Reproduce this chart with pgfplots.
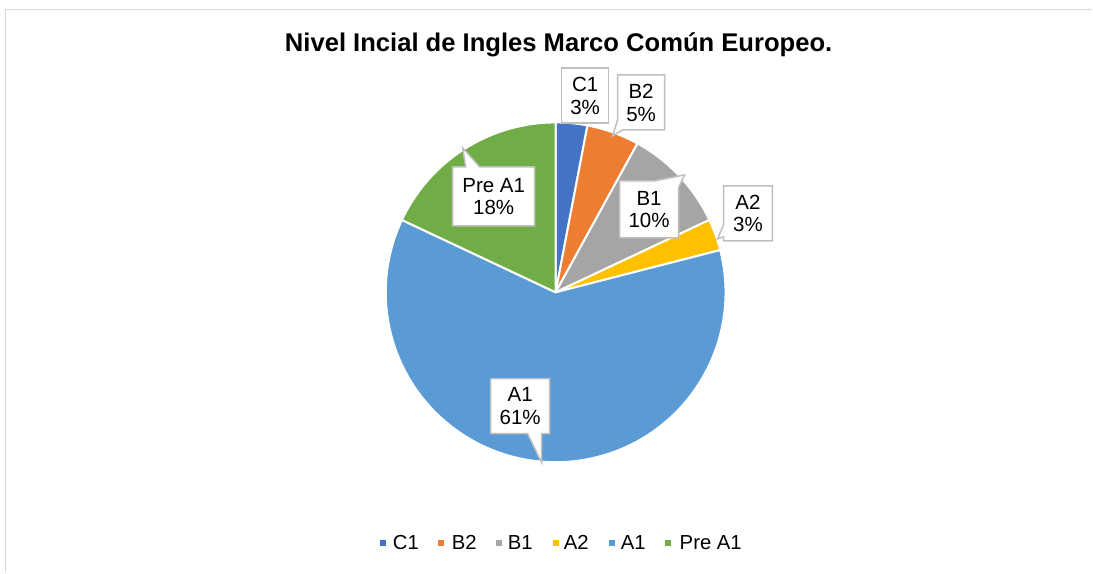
\documentclass[border=0pt]{standalone}
\usepackage{pgfplots}
\usepackage{pgfplotstable}
\pgfplotsset{compat=1.18}
\usepackage{fontspec}
\setmainfont{Liberation Sans}
\definecolor{cC1}{HTML}{4472C4}
\definecolor{cB2}{HTML}{ED7D31}
\definecolor{cB1}{HTML}{A5A5A5}
\definecolor{cA2}{HTML}{FFC000}
\definecolor{cA1}{HTML}{5B9BD5}
\definecolor{cPA}{HTML}{70AD47}
\definecolor{boxgray}{HTML}{BFBFBF}
\definecolor{framegray}{HTML}{D9D9D9}
\pgfplotstableread[col sep=comma]{
level,value
C1,3
B2,5
B1,10
A2,3
A1,61
Pre A1,18
}\datatable
\newcommand\pieslice[2]{%
  \fill[#2, draw=white, line width=2pt, line join=round] (axis cs:556,292.5) -- ++(\csname angS#1\endcsname:170pt)
    arc[start angle=\csname angS#1\endcsname, end angle=\csname angE#1\endcsname, radius=170pt] -- cycle;}
\begin{document}
\begin{tikzpicture}
\def\cum{0}
\foreach \i in {0,...,5}{%
  \pgfplotstablegetelem{\i}{value}\of\datatable
  \pgfmathsetmacro\a{90-3.6*\cum}%
  \pgfmathsetmacro\b{90-3.6*(\cum+\pgfplotsretval)}%
  \expandafter\xdef\csname angS\i\endcsname{\a}%
  \expandafter\xdef\csname angE\i\endcsname{\b}%
  \pgfmathsetmacro\c{\cum+\pgfplotsretval}%
  \xdef\cum{\c}%
}
\begin{axis}[
  scale only axis, width=1093pt, height=573pt,
  xmin=0, xmax=1093, ymin=0, ymax=573, y dir=reverse,
  hide axis, clip=false,
]
\path (axis cs:0,0) rectangle (axis cs:1093,573);
% frame
\draw[framegray, line width=1.5pt] (axis cs:5.5,573) -- (axis cs:5.5,9.3) -- (axis cs:1093,9.3);
% wedges
\pieslice{0}{cC1}
\pieslice{1}{cB2}
\pieslice{2}{cB1}
\pieslice{3}{cA2}
\pieslice{4}{cA1}
\pieslice{5}{cPA}
% title
\node[anchor=base, inner sep=0, font=\fontsize{25.6}{30}\selectfont\bfseries] at (axis cs:559,52) {Nivel Incial de Ingles Marco Común Europeo.};
% label boxes
\tikzset{lbl/.style={fill=white, draw=boxgray, line width=1.5pt, line join=miter}}
\tikzset{ltxt/.style={align=center, inner sep=0, font=\fontsize{20.5}{22.5}\selectfont}}
\draw[lbl] (axis cs:562,68) -- (axis cs:609,68) -- (axis cs:609,123) -- (axis cs:562,123) -- cycle;
\node[ltxt] at (axis cs:585.5,96) {C1\\3\%};
\draw[lbl] (axis cs:618,75) -- (axis cs:665,75) -- (axis cs:665,130) -- (axis cs:623,130) -- (axis cs:613,136) -- (axis cs:618,120) -- cycle;
\node[ltxt] at (axis cs:641.5,103) {B2\\5\%};
\draw[lbl] (axis cs:620,181) -- (axis cs:655,181) -- (axis cs:685,175) -- (axis cs:679,188) -- (axis cs:679,238) -- (axis cs:620,238) -- cycle;
\node[ltxt] at (axis cs:649.5,209.5) {B1\\10\%};
\draw[lbl] (axis cs:724,186) -- (axis cs:773,186) -- (axis cs:773,241) -- (axis cs:724,241) -- (axis cs:724,237) -- (axis cs:718,239) -- (axis cs:724,225) -- cycle;
\node[ltxt] at (axis cs:748.5,213.5) {A2\\3\%};
\draw[lbl] (axis cs:453,167) -- (axis cs:466,167) -- (axis cs:463,148) -- (axis cs:480,167) -- (axis cs:535,167) -- (axis cs:535,226) -- (axis cs:453,226) -- cycle;
\node[ltxt] at (axis cs:494,196.5) {Pre A1\\18\%};
\draw[lbl] (axis cs:491,379) -- (axis cs:550,379) -- (axis cs:550,434) -- (axis cs:542,434) -- (axis cs:542,463) -- (axis cs:528,434) -- (axis cs:491,434) -- cycle;
\node[ltxt] at (axis cs:520.5,406.5) {A1\\61\%};
% legend
\tikzset{lsq/.style={minimum size=6pt, inner sep=0, anchor=center}}
\tikzset{ltx/.style={anchor=base west, inner sep=0, font=\fontsize{20.3}{23}\selectfont}}
\node[lsq, fill=cC1] at (axis cs:383.5,543) {};
\node[ltx] at (axis cs:393,550) {C1};
\node[lsq, fill=cB2] at (axis cs:441.5,543) {};
\node[ltx] at (axis cs:452,550) {B2};
\node[lsq, fill=cB1] at (axis cs:499.5,543) {};
\node[ltx] at (axis cs:508,550) {B1};
\node[lsq, fill=cA2] at (axis cs:556.5,543) {};
\node[ltx] at (axis cs:564,550) {A2};
\node[lsq, fill=cA1] at (axis cs:612.5,543) {};
\node[ltx] at (axis cs:621,550) {A1};
\node[lsq, fill=cPA] at (axis cs:668.5,543) {};
\node[ltx] at (axis cs:680,550) {Pre A1};
\end{axis}
\end{tikzpicture}
\end{document}
